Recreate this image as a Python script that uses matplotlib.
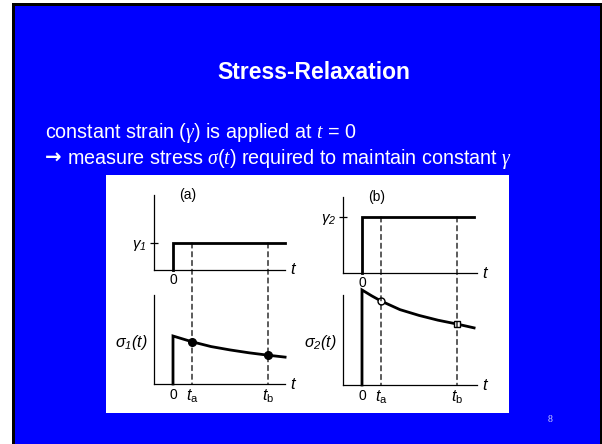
import matplotlib
matplotlib.use("Agg")
import matplotlib.pyplot as plt
from matplotlib.patches import Rectangle, ConnectionPatch

plt.rcParams["mathtext.fontset"] = "custom"
plt.rcParams["mathtext.rm"] = "Liberation Sans"
plt.rcParams["mathtext.it"] = "Liberation Serif:italic"
plt.rcParams["mathtext.sf"] = "Liberation Sans:italic"

# ---- data -------------------------------------------------------------
t_curve = [0.0, 0.5, 1.0, 2.0, 3.0, 4.0, 5.0, 5.9]
sigma1 = [1.00, 0.94, 0.88, 0.78, 0.71, 0.65, 0.60, 0.56]
sigma2 = [1.98, 1.86, 1.75, 1.57, 1.45, 1.35, 1.27, 1.19]
gamma1 = 1.0
gamma2 = 2.0
t_a = 1.0
t_b = 5.0
t_end = 5.9

W, H = 602, 444
fig = plt.figure(figsize=(W / 100, H / 100), dpi=100)
fig.patch.set_facecolor("white")

# slide background in pixel coordinates
bg = fig.add_axes([0, 0, 1, 1])
bg.set_xlim(0, W)
bg.set_ylim(H, 0)
bg.axis("off")
bg.add_patch(Rectangle((12, 3), W - 12, H - 3, facecolor="black", edgecolor="none"))
bg.add_patch(Rectangle((15, 6), 585, H - 6, facecolor="#0000FF", edgecolor="none"))
bg.add_patch(Rectangle((106, 175), 403, 238, facecolor="white", edgecolor="none"))

bg.text(314, 79, "Stress-Relaxation", color="white", fontsize=16.5,
        fontweight="bold", family="Liberation Sans", ha="center", va="baseline")
bg.text(45, 138, r"constant strain ($\gamma$) is applied at $t$ = 0",
        color="white", fontsize=14.2, family="Liberation Sans", va="baseline")
bg.text(45, 164, "→", color="white", fontsize=14.2, fontweight="bold",
        family="DejaVu Sans", va="baseline")
bg.text(67, 164, r"measure stress $\sigma(t)$ required to maintain constant $\gamma$",
        color="white", fontsize=14.2, family="Liberation Sans", va="baseline")
bg.text(550, 419, "8", color="#d0d0ff", fontsize=7, family="Liberation Serif",
        ha="center", va="center")


def px_axes(x0, x1, ytop, ybase):
    return fig.add_axes([x0 / W, 1 - ybase / H, (x1 - x0) / W, (ybase - ytop) / H])


def style(ax, xlim, ylim):
    ax.set_xlim(*xlim)
    ax.set_ylim(*ylim)
    ax.patch.set_alpha(0)
    for s in ("top", "right"):
        ax.spines[s].set_visible(False)
    for s in ("left", "bottom"):
        ax.spines[s].set_linewidth(0.9)
    ax.set_xticks([])
    ax.set_yticks([])


lw = 2.0
small = dict(fontsize=10, family="Liberation Sans", color="black")
tsty = dict(fontsize=12, family="Liberation Sans", style="italic", color="black")

panels = [
    # x0, x1, top(ytop, ybase), bottom(ytop, ybase), gamma, sigma, tag, filled
    (154, 285, (195, 270), (295, 384), gamma1, sigma1, "a", True),
    (343, 477, (197, 273), (295, 385), gamma2, sigma2, "b", False),
]

for x0, x1, (tt, tb_), (bt, bb), gam, sig, tag, filled in panels:
    idx = 1 if tag == "a" else 2
    xlim = (-1.0, -1.0 + (x1 - x0) / 19.0)
    scale_top = (tb_ - tt) / 27.0 if tag == "a" else (tb_ - tt) / 28.0
    ax_t = px_axes(x0, x1, tt, tb_)
    style(ax_t, xlim, (0, scale_top))
    ax_t.plot([0, 0, t_end], [0, gam, gam], color="black", lw=lw,
              solid_joinstyle="miter", clip_on=False, zorder=3)
    ax_t.set_yticks([gam])
    ax_t.set_yticklabels([rf"$\mathsf{{\gamma_{idx}}}$"], fontsize=11)
    ax_t.tick_params(axis="y", direction="inout", length=6, width=0.9, pad=2)

    ax_b = px_axes(x0, x1, bt, bb)
    top_b = (bb - bt) / 48.0
    style(ax_b, xlim, (0, top_b))
    ax_b.plot([0] + t_curve, [0] + sig, color="black", lw=lw,
              solid_joinstyle="miter", clip_on=False, zorder=3)

    # marked times on the relaxation curve
    s_a = sig[t_curve.index(t_a)]
    s_b = sig[t_curve.index(t_b)]
    if filled:
        ax_b.plot([t_a, t_b], [s_a, s_b], "o", color="black", ms=5.5,
                  clip_on=False, zorder=4)
    else:
        ax_b.plot([t_a], [s_a], "o", mfc="white", mec="black", mew=1.0,
                  ms=5, clip_on=False, zorder=4)
        ax_b.plot([t_b], [s_b], "s", mfc="white", mec="black", mew=1.0,
                  ms=4.5, clip_on=False, zorder=4)

    # dashed guides from the strain level down to the time axis
    for tm in (t_a, t_b):
        con = ConnectionPatch(xyA=(tm, gam), coordsA=ax_t.transData,
                              xyB=(tm, 0), coordsB=ax_b.transData,
                              color="black", lw=0.9, linestyle=(0, (4, 3)),
                              zorder=1)
        fig.add_artist(con)

    # annotations
    ax_t.text(0, -0.12, "0", ha="center", va="top", **small)
    ax_t.text(xlim[1] + 0.3, 0, "t", ha="left", va="center", **tsty)
    ax_b.text(0, -0.08, "0", ha="center", va="top", **small)
    ax_b.text(t_a, -0.07, r"$\mathsf{t}_\mathrm{a}$", ha="center", va="top", fontsize=11.5)
    ax_b.text(t_b, -0.07, r"$\mathsf{t}_\mathrm{b}$", ha="center", va="top", fontsize=11.5)
    ax_b.text(xlim[1] + 0.3, 0, "t", ha="left", va="center", **tsty)
    ax_b.text(-1.35, top_b * 0.47, rf"$\mathsf{{\sigma_{idx}(t)}}$",
              ha="right", va="center", fontsize=11.5)
    ax_t.text(0.75, scale_top * 1.0, f"({tag})", ha="center", va="center", **small)

fig.savefig("out.png", dpi=100, facecolor=fig.get_facecolor())
